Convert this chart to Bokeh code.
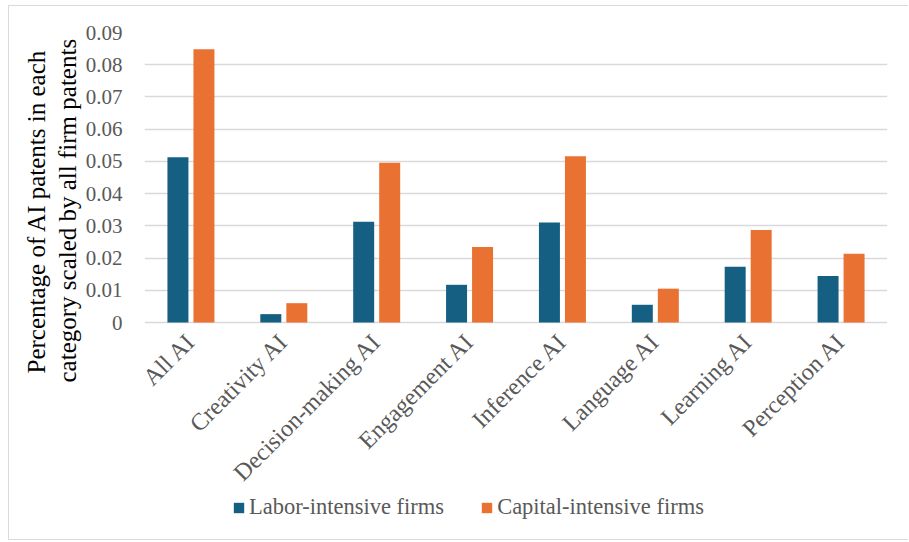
import math
from bokeh.plotting import figure
from bokeh.models import (ColumnDataSource, FactorRange, Range1d, FixedTicker,
                          Legend, LegendItem, Title, NumeralTickFormatter,
                          CategoricalAxis)
from bokeh.transform import dodge
from bokeh.embed import file_html
from bokeh.resources import INLINE

categories = ["All AI", "Creativity AI", "Decision-making AI", "Engagement AI",
              "Inference AI", "Language AI", "Learning AI", "Perception AI"]
labor = [0.0513, 0.0026, 0.0313, 0.0117, 0.0310, 0.0055, 0.0173, 0.0144]
capital = [0.0848, 0.0060, 0.0496, 0.0234, 0.0516, 0.0105, 0.0287, 0.0213]
series_names = ["Labor-intensive firms", "Capital-intensive firms"]
y_ticks = [0, 0.01, 0.02, 0.03, 0.04, 0.05, 0.06, 0.07, 0.08, 0.09]
y_tick_labels = ["0", "0.01", "0.02", "0.03", "0.04", "0.05", "0.06", "0.07", "0.08", "0.09"]
y_title_lines = ["Percentage of AI patents in each", "category scaled by all firm patents"]

FONT = "Liberation Serif"
GREY = "#595959"
LABOR_C = "#156082"
CAPITAL_C = "#E97132"

# layout geometry (pixels): value area 290 px tall, 219 px of room below zero
Y_MAX = 0.09
AREA_PX = 290.0
BELOW_PX = 219.0
y_min = -Y_MAX * BELOW_PX / AREA_PX

source = ColumnDataSource(dict(cat=categories, labor=labor, capital=capital))

p = figure(width=900, height=535, output_backend="svg", toolbar_location=None,
           x_range=FactorRange(*categories, range_padding=0, factor_padding=0),
           y_range=Range1d(y_min, Y_MAX), x_axis_location=None,
           min_border_left=135, min_border_right=22, min_border_top=26,
           min_border_bottom=0)
p.styles = {"margin-left": "8px", "margin-top": "5px",
            "border-left": "1px solid #d9d9d9", "border-top": "1px solid #d9d9d9",
            "border-bottom": "1px solid #d9d9d9"}
p.outline_line_color = None
p.background_fill_color = "white"
p.border_fill_color = "white"

r1 = p.vbar(x=dodge("cat", -0.14, range=p.x_range), top="labor", width=0.226,
            source=source, fill_color=LABOR_C, line_color=None)
r2 = p.vbar(x=dodge("cat", 0.14, range=p.x_range), top="capital", width=0.226,
            source=source, fill_color=CAPITAL_C, line_color=None)

xaxis = CategoricalAxis(fixed_location=0)
p.add_layout(xaxis, "below")

p.xgrid.grid_line_color = None
p.ygrid.grid_line_color = "#d9d9d9"
p.ygrid.grid_line_width = 1.4

p.yaxis.ticker = FixedTicker(ticks=y_ticks)
p.yaxis.major_label_overrides = {t: l for t, l in zip(y_ticks, y_tick_labels)}
p.yaxis.formatter = NumeralTickFormatter(format="0.00")
for ax in (xaxis, p.yaxis[0]):
    ax.axis_line_color = None
    ax.major_tick_line_color = None
    ax.minor_tick_line_color = None
    ax.major_tick_out = 0
    ax.major_tick_in = 0
    ax.minor_tick_out = 0
    ax.major_label_text_font = FONT
    ax.major_label_text_color = GREY
    ax.major_label_text_font_size = "21px"

xaxis.major_label_text_font_size = "24px"
p.yaxis.major_label_standoff = 22
xaxis.major_label_orientation = math.pi / 4
xaxis.major_label_standoff = 15

# two-line y-axis title (second line nearest the axis)
t2 = Title(text=y_title_lines[1], align="left", offset=159, standoff=4,
           text_font=FONT, text_font_size="25px", text_font_style="normal",
           text_color="black")
t1 = Title(text=y_title_lines[0], align="left", offset=168, standoff=0,
           text_font=FONT, text_font_size="25px", text_font_style="normal",
           text_color="black")
p.add_layout(t2, "left")
p.add_layout(t1, "left")

legend = Legend(items=[LegendItem(label=series_names[0], renderers=[r1]),
                       LegendItem(label=series_names[1], renderers=[r2])],
                location=(88, 21), orientation="horizontal",
                label_text_font=FONT, label_text_font_size="22.5px",
                label_text_color=GREY, glyph_width=13, glyph_height=13,
                label_standoff=4, spacing=36, padding=0, margin=0,
                border_line_color=None, background_fill_alpha=0,
                label_height=22)
p.add_layout(legend, "center")

open("out.html", "w").write(file_html(p, INLINE))
